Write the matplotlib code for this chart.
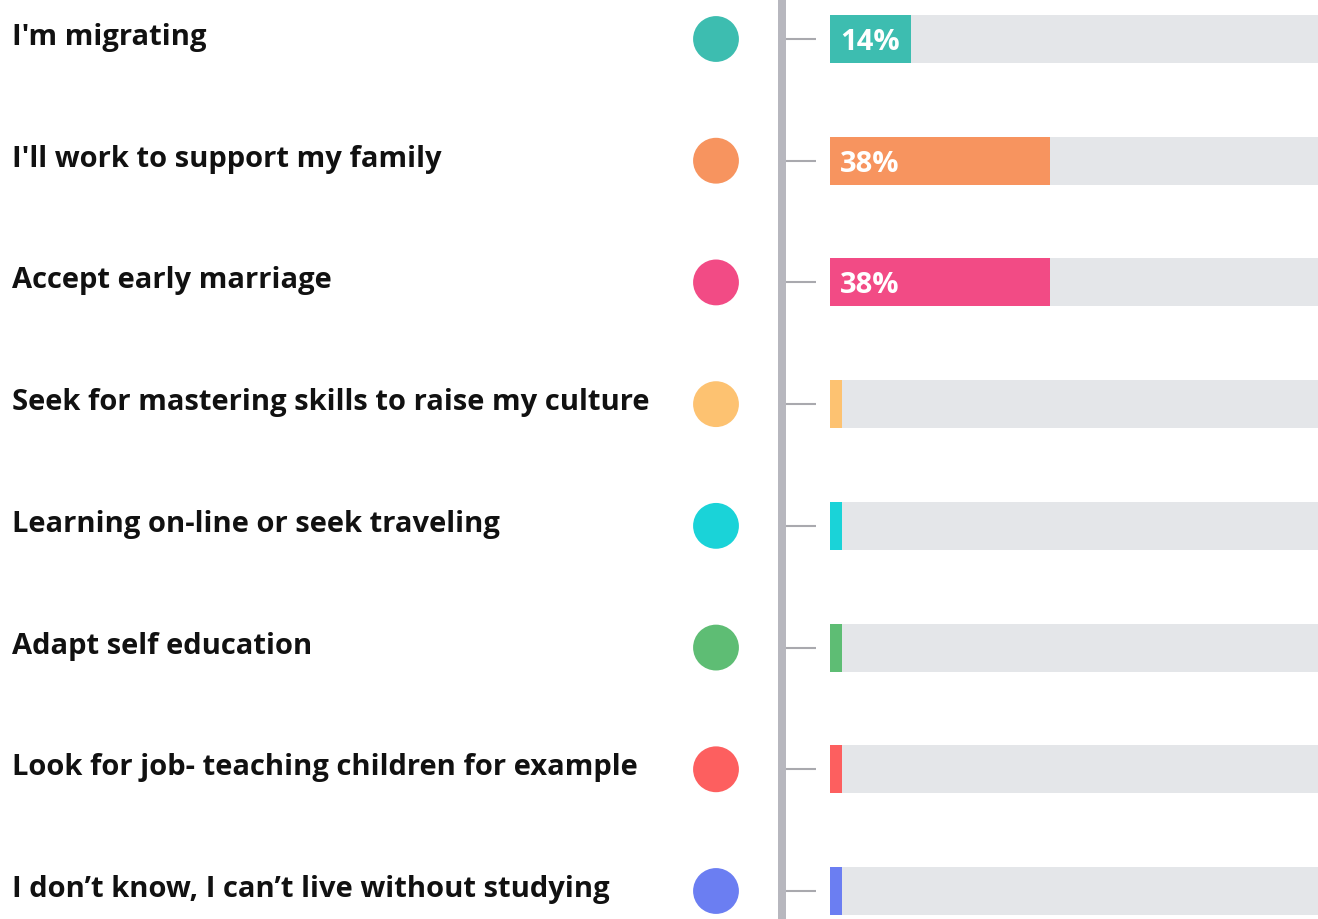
import matplotlib.pyplot as plt
import numpy as np

# answers, share of respondents (%), colours
answers = [
    "I'm migrating",
    "I'll work to support my family",
    "Accept early marriage",
    "Seek for mastering skills to raise my culture",
    "Learning on-line or seek traveling",
    "Adapt self education",
    "Look for job- teaching children for example",
    "I don\u2019t know, I can\u2019t live without studying",
]
shares = [14, 38, 38, 2, 2, 2, 2, 2]
shown_labels = ["14%", "38%", "38%", "", "", "", "", ""]
colors = ['#3dbdb0', '#f7945f', '#f24b85', '#fdc271',
          '#1ad3d8', '#5ebd74', '#fd5f5f', '#6b7ef2']

W, H = 1318, 919
TRACK_COLOR = '#e4e6e9'
AXIS_COLOR = '#b7b7be'
TICK_COLOR = '#a9a9ae'
FONT = 'Open Sans'

fig = plt.figure(figsize=(W / 100, H / 100), dpi=100)
fig.patch.set_facecolor('white')

bar_left = 830
px_per_pct = 5.8
row_px = (891 - 39) / 7
ylim = (7 + (H - 891) / row_px, -39 / row_px)

# left part: labels, dots, axis line (x in pixels)
ax_lab = fig.add_axes([0, 0, bar_left / W, 1])
ax_lab.set_xlim(0, bar_left)
ax_lab.set_ylim(*ylim)
ax_lab.axis('off')

# right part: bars in percent
ax = fig.add_axes([bar_left / W, 0, (W - bar_left) / W, 1])
ax.set_xlim(0, (W - bar_left) / px_per_pct)
ax.set_ylim(*ylim)
ax.axis('off')

y = np.arange(len(answers))
bar_h = 48 / row_px

ax.barh(y, [100] * len(y), height=bar_h, color=TRACK_COLOR, left=0)
ax.barh(y, shares, height=bar_h, color=colors, left=0)

for yi, lab in zip(y, shown_labels):
    if lab:
        ax.annotate(lab, (0, yi + 11 / row_px), xytext=(7, 0),
                    textcoords='offset points', ha='left', va='baseline',
                    color='white', fontsize=21, fontweight='bold',
                    family=FONT)

# vertical axis line and tick stubs
ax_lab.axvline(782, color=AXIS_COLOR, lw=8 * 0.72, solid_capstyle='butt')
ax_lab.hlines(y, 786, 816, color=TICK_COLOR, lw=1.5)

# coloured dots
ax_lab.scatter([716] * len(y), y, s=33 ** 2, c=colors, edgecolors='none',
               zorder=3)

for yi, txt in zip(y, answers):
    ax_lab.text(12, yi + 6 / row_px, txt, ha='left', va='baseline',
                fontsize=21, fontweight='bold', family=FONT, color='#111111')

fig.savefig('out.png', dpi=100, facecolor='white')
